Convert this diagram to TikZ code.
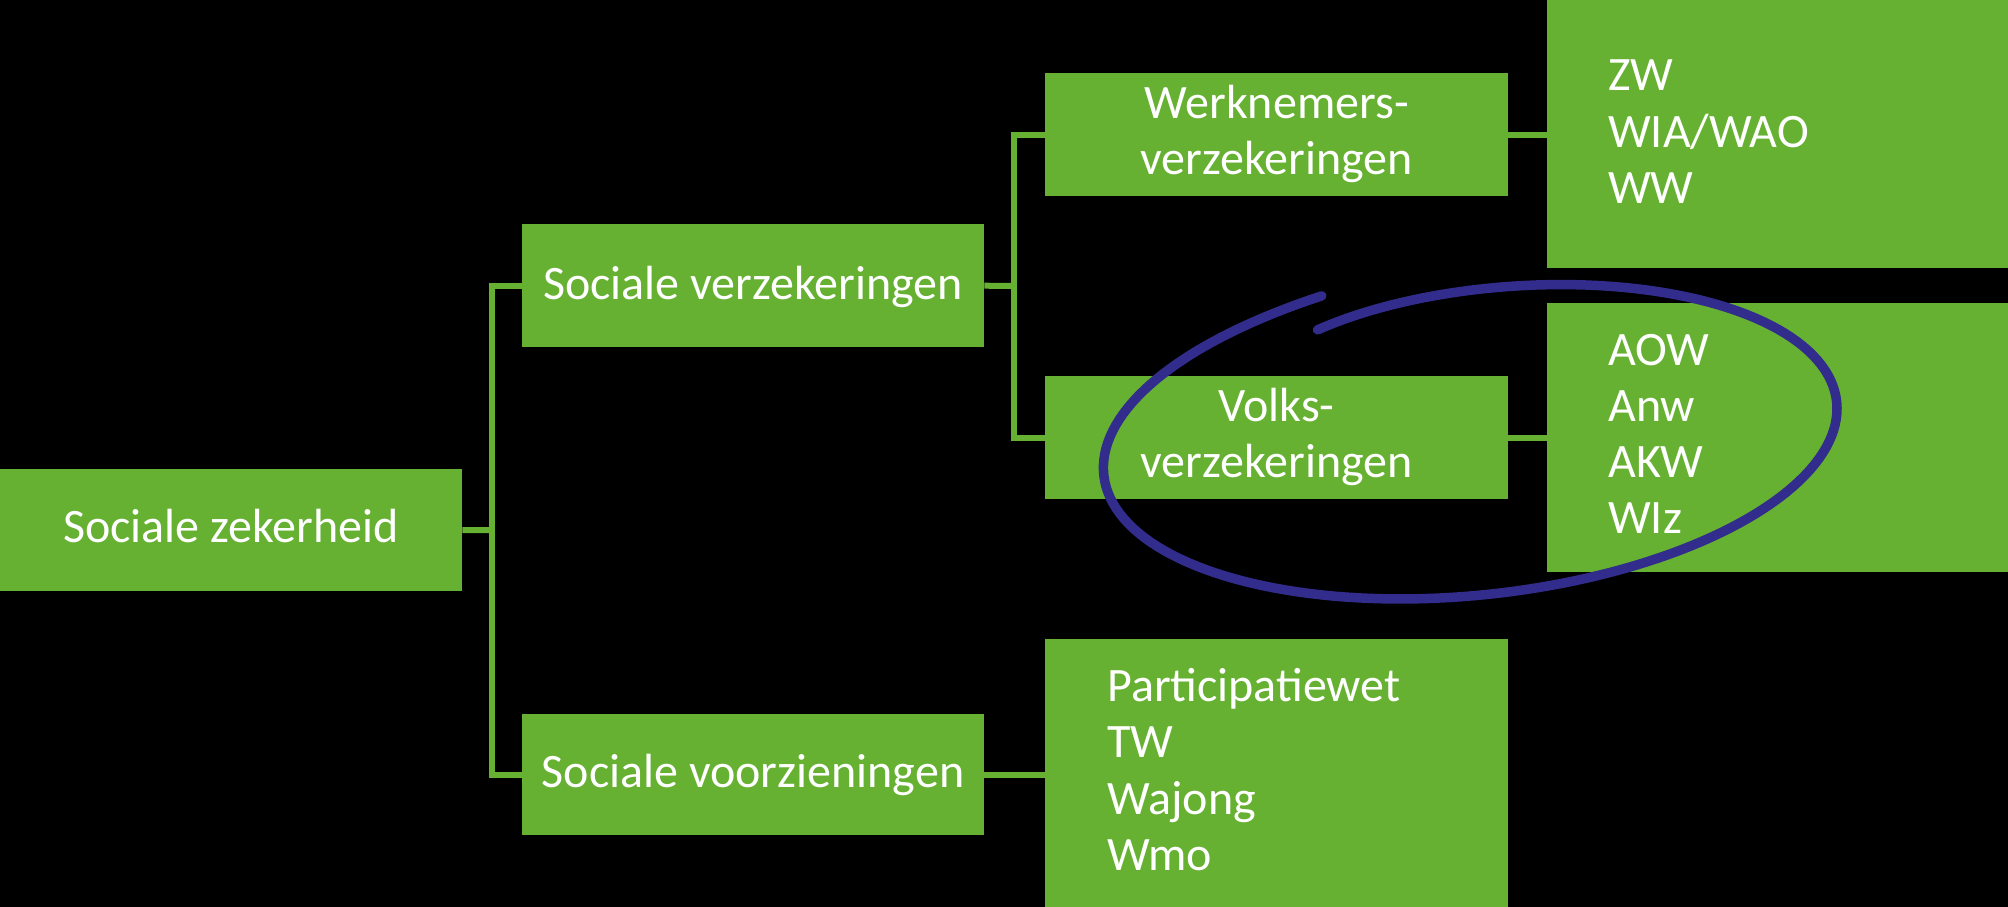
\documentclass[tikz,border=0pt]{standalone}
\usepackage{fontspec}
\setmainfont{Carlito}
\definecolor{boxgreen}{RGB}{102,177,50}
\definecolor{penblue}{RGB}{50,44,140}
\tikzset{
  gbox/.style={fill=boxgreen, draw=none, inner sep=0pt, anchor=north west},
  conn/.style={draw=boxgreen, line width=6pt},
  lbl/.style={text=white, inner sep=0pt, font=\fontsize{48}{56.3}\selectfont},
  pen/.style={draw=penblue, line width=9.5pt, line cap=round, line join=round}
}
\begin{document}
\begin{tikzpicture}[x=1pt, y=-1pt]
\fill[black] (0,0) rectangle (2008,907);
\useasboundingbox (0,0) rectangle (2008,907);
% boxes
\node[gbox, minimum width=462pt, minimum height=122pt] (sz) at (0,469) {};
\node[gbox, minimum width=462pt, minimum height=123pt] (sv) at (522,224) {};
\node[gbox, minimum width=462pt, minimum height=121pt] (svz) at (522,714) {};
\node[gbox, minimum width=463pt, minimum height=123pt] (wn) at (1045,73) {};
\node[gbox, minimum width=463pt, minimum height=123pt] (vv) at (1045,376) {};
\node[gbox, minimum width=461pt, minimum height=268pt] (lw) at (1547,0) {};
\node[gbox, minimum width=461pt, minimum height=269pt] (lv) at (1547,303) {};
\node[gbox, minimum width=463pt, minimum height=268pt] (lsv) at (1045,639) {};
% junctions
\coordinate (j1) at (492,530);
\coordinate (j2) at (1014,286);
% connectors
\draw[conn] (sz.east) -- (j1);
\draw[conn] (sv.west) -| (j1);
\draw[conn] (svz.west) -| (j1);
\draw[conn] (sv.east) -- (j2);
\draw[conn] (wn.west) -| (j2);
\draw[conn] (vv.west) -| (j2);
\draw[conn] (wn.east) -- (wn.east -| lw.west);
\draw[conn] (vv.east) -- (vv.east -| lv.west);
\draw[conn] (svz.east) -- (svz.east -| lsv.west);
% labels
\node[lbl, anchor=base] (tsz) at (231,542) {Sociale zekerheid};
\node[lbl, anchor=base] (tsv) at (753,299) {Sociale verzekeringen};
\node[lbl, anchor=base] (tsvz) at (753,787) {Sociale voorzieningen};
\node[lbl, anchor=base] (twn) at (1276.5,118.5) {\vtop{\halign{\hfil#\hfil\cr Werknemers-\cr verzekeringen\cr}}};
\node[lbl, anchor=base] (tvv) at (1276.5,421.5) {\vtop{\halign{\hfil#\hfil\cr Volks-\cr verzekeringen\cr}}};
\node[lbl, anchor=base west] (tlw) at (1608,91) {\vtop{\halign{#\hfil\cr ZW\cr WIA/WAO\cr WW\cr}}};
\node[lbl, anchor=base west] (tlv) at (1608,365) {\vtop{\halign{#\hfil\cr AOW\cr Anw\cr AKW\cr WIz\cr}}};
\node[lbl, anchor=base west] (tlsv) at (1107,701.5) {\vtop{\halign{#\hfil\cr Participatiewet\cr TW\cr Wajong\cr Wmo\cr}}};
% hand-drawn ellipse (slightly spiralling, tilted 6 degrees)
\draw[pen] plot[domain=244:610, samples=180, variable=\t]
  ({1473 + (1 - 0.11*exp(-(\t-244)/35) + 0.079*exp(-(610-\t)/35))*(367*cos(\t)*0.9945 + 156*sin(\t)*0.1045)},
   {439 + (1 - 0.11*exp(-(\t-244)/35) + 0.079*exp(-(610-\t)/35))*(-367*cos(\t)*0.1045 + 156*sin(\t)*0.9945)});
\end{tikzpicture}
\end{document}
